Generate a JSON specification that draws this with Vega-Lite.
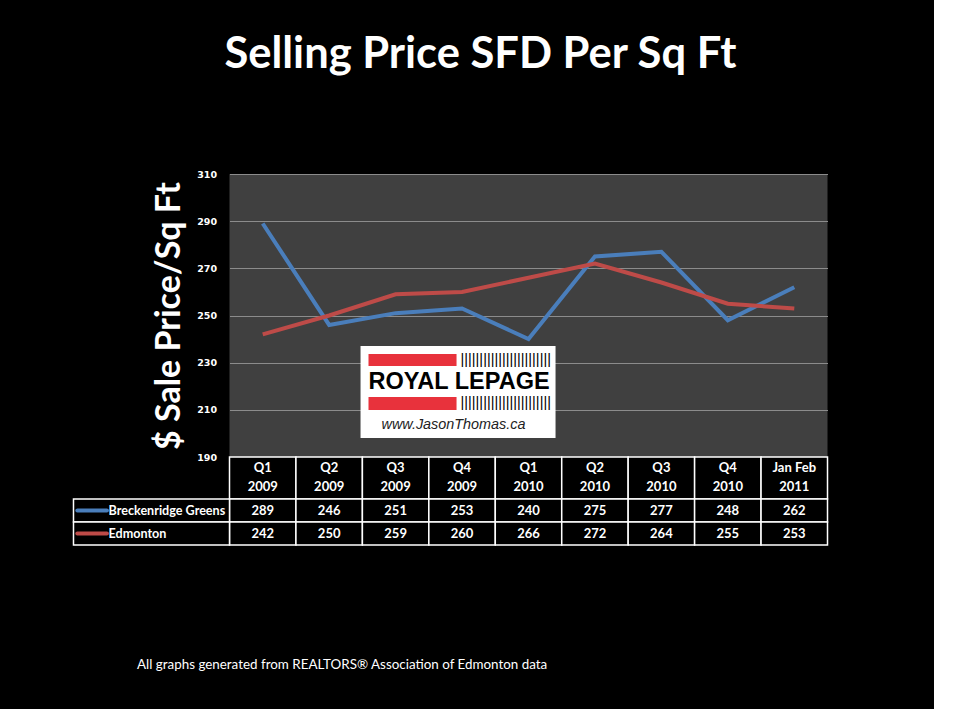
{
  "$schema": "https://vega.github.io/schema/vega-lite/v6.json",
  "background": "black",
  "padding": {"left": 72.5, "top": 32, "right": 105, "bottom": 38},
  "title": {
    "text": "Selling Price SFD Per Sq Ft",
    "color": "white",
    "font": "Lato",
    "fontSize": 43.5,
    "fontWeight": "bold",
    "anchor": "middle",
    "offset": 92,
    "dx": 30
  },
  "datasets": {
    "series": [
      {"period": "Q1 2009", "area": "Breckenridge Greens", "price": 289},
      {"period": "Q2 2009", "area": "Breckenridge Greens", "price": 246},
      {"period": "Q3 2009", "area": "Breckenridge Greens", "price": 251},
      {"period": "Q4 2009", "area": "Breckenridge Greens", "price": 253},
      {"period": "Q1 2010", "area": "Breckenridge Greens", "price": 240},
      {"period": "Q2 2010", "area": "Breckenridge Greens", "price": 275},
      {"period": "Q3 2010", "area": "Breckenridge Greens", "price": 277},
      {"period": "Q4 2010", "area": "Breckenridge Greens", "price": 248},
      {"period": "Jan Feb 2011", "area": "Breckenridge Greens", "price": 262},
      {"period": "Q1 2009", "area": "Edmonton", "price": 242},
      {"period": "Q2 2009", "area": "Edmonton", "price": 250},
      {"period": "Q3 2009", "area": "Edmonton", "price": 259},
      {"period": "Q4 2009", "area": "Edmonton", "price": 260},
      {"period": "Q1 2010", "area": "Edmonton", "price": 266},
      {"period": "Q2 2010", "area": "Edmonton", "price": 272},
      {"period": "Q3 2010", "area": "Edmonton", "price": 264},
      {"period": "Q4 2010", "area": "Edmonton", "price": 255},
      {"period": "Jan Feb 2011", "area": "Edmonton", "price": 253}
    ],
    "periods": [
      {"period": "Q1 2009", "label": "Q1\n2009"},
      {"period": "Q2 2009", "label": "Q2\n2009"},
      {"period": "Q3 2009", "label": "Q3\n2009"},
      {"period": "Q4 2009", "label": "Q4\n2009"},
      {"period": "Q1 2010", "label": "Q1\n2010"},
      {"period": "Q2 2010", "label": "Q2\n2010"},
      {"period": "Q3 2010", "label": "Q3\n2010"},
      {"period": "Q4 2010", "label": "Q4\n2010"},
      {"period": "Jan Feb 2011", "label": "Jan Feb\n2011"}
    ],
    "areas": [
      {"area": "Breckenridge Greens"},
      {"area": "Edmonton"}
    ],
    "logo": [
      {"part": "logo"}
    ]
  },
  "bounds": "flush",
  "spacing": 0,
  "vconcat": [
    {
      "width": 598,
      "height": 283,
      "view": {"fill": "#404040", "stroke": null},
      "layer": [
        {
          "data": {"name": "series"},
          "mark": {"type": "line", "strokeWidth": 4},
          "encoding": {
            "x": {"field": "period", "type": "ordinal", "sort": null, "scale": {"type": "point", "padding": 0.5}, "axis": null},
            "y": {
              "field": "price", "type": "quantitative",
              "scale": {"domain": [190, 310], "nice": false},
              "axis": {
                "values": [190, 210, 230, 250, 270, 290, 310],
                "grid": true, "gridColor": "#8c8c8c", "gridWidth": 1,
                "domain": false, "ticks": false,
                "labelColor": "white", "labelFont": "DejaVu Sans", "labelFontWeight": "bold", "labelFontSize": 9.5,
                "labelPadding": 13,
                "title": "$ Sale  Price/Sq Ft",
                "titleColor": "white", "titleFont": "Lato", "titleFontSize": 34, "titleFontWeight": "bold",
                "titlePadding": 10
              }
            },
            "color": {"field": "area", "type": "nominal", "scale": {"domain": ["Breckenridge Greens", "Edmonton"], "range": ["#4A7EBB", "#BE4B48"]}, "legend": null}
          }
        },
        {
          "data": {"name": "logo"},
          "layer": [
            {
              "mark": {"type": "rect", "fill": "white"},
              "encoding": {
                "x": {"datum": 2.472, "type": "quantitative", "scale": {"domain": [0.5, 9.5], "nice": false, "zero": false}, "axis": null},
                "x2": {"datum": 5.407},
                "y": {"datum": 237.07, "type": "quantitative"},
                "y2": {"datum": 198.06}
              }
            },
            {
              "mark": {"type": "rect", "fill": "#E8323C"},
              "encoding": {
                "x": {"datum": 2.592, "type": "quantitative"},
                "x2": {"datum": 3.917},
                "y": {"datum": 233.67, "type": "quantitative"},
                "y2": {"datum": 228.59}
              }
            },
            {
              "mark": {"type": "rect", "fill": "#E8323C"},
              "encoding": {
                "x": {"datum": 2.592, "type": "quantitative"},
                "x2": {"datum": 3.917},
                "y": {"datum": 215.44, "type": "quantitative"},
                "y2": {"datum": 209.93}
              }
            },
            {
              "mark": {"type": "text", "text": "||||||||||||||||||||||||", "font": "Liberation Sans", "fontSize": 14.5, "color": "black", "align": "left", "baseline": "middle"},
              "encoding": {
                "x": {"datum": 3.977, "type": "quantitative"},
                "y": {"datum": 231.1, "type": "quantitative"}
              }
            },
            {
              "mark": {"type": "text", "text": "||||||||||||||||||||||||", "font": "Liberation Sans", "fontSize": 14.5, "color": "black", "align": "left", "baseline": "middle"},
              "encoding": {
                "x": {"datum": 3.977, "type": "quantitative"},
                "y": {"datum": 212.7, "type": "quantitative"}
              }
            },
            {
              "mark": {"type": "text", "text": "ROYAL LEPAGE", "font": "Liberation Sans", "fontSize": 23.5, "fontWeight": "bold", "color": "black", "align": "left", "baseline": "alphabetic"},
              "encoding": {
                "x": {"datum": 2.592, "type": "quantitative"},
                "y": {"datum": 218.83, "type": "quantitative"}
              }
            },
            {
              "mark": {"type": "text", "text": "www.JasonThomas.ca", "font": "Liberation Sans", "fontSize": 14.4, "fontStyle": "italic", "color": "#222222", "align": "left", "baseline": "alphabetic"},
              "encoding": {
                "x": {"datum": 2.788, "type": "quantitative"},
                "y": {"datum": 201.87, "type": "quantitative"}
              }
            }
          ]
        }
      ],
      "resolve": {"scale": {"x": "independent"}}
    },
    {
      "width": 598,
      "height": 42,
      "view": {"fill": "black", "stroke": null},
      "data": {"name": "periods"},
      "layer": [
        {
          "mark": {"type": "rect", "fill": "black", "stroke": "white", "strokeWidth": 1.5},
          "encoding": {
            "x": {"field": "period", "type": "ordinal", "sort": null, "scale": {"type": "band", "paddingInner": 0, "paddingOuter": 0}, "axis": null}
          }
        },
        {
          "mark": {"type": "text", "color": "white", "font": "Lato", "fontSize": 13, "fontWeight": "bold", "lineBreak": "\n", "lineHeight": 19, "baseline": "middle", "dy": -10},
          "encoding": {
            "x": {"field": "period", "type": "ordinal", "sort": null},
            "text": {"field": "label"}
          }
        }
      ]
    },
    {
      "width": 598,
      "height": 46,
      "view": {"fill": "black", "stroke": null},
      "layer": [
        {
          "data": {"name": "series"},
          "layer": [
            {
              "mark": {"type": "rect", "fill": "black", "stroke": "white", "strokeWidth": 1.5},
              "encoding": {
                "x": {
                  "field": "period", "type": "ordinal", "sort": null,
                  "scale": {"type": "band", "paddingInner": 0, "paddingOuter": 0},
                  "axis": {
                    "labels": false, "ticks": false, "domain": false,
                    "title": "All graphs generated from REALTORS® Association of Edmonton data",
                    "titleColor": "white", "titleFont": "Lato", "titleFontSize": 13.4, "titleFontWeight": "normal",
                    "titleAnchor": "start", "titleAlign": "left", "titleX": -93, "titlePadding": 112
                  }
                },
                "y": {"field": "area", "type": "nominal", "scale": {"domain": ["Breckenridge Greens", "Edmonton"], "paddingInner": 0, "paddingOuter": 0}, "axis": null}
              }
            },
            {
              "mark": {"type": "text", "color": "white", "font": "Lato", "fontSize": 13, "fontWeight": "bold"},
              "encoding": {
                "x": {"field": "period", "type": "ordinal", "sort": null},
                "y": {"field": "area", "type": "nominal"},
                "text": {"field": "price", "type": "quantitative"}
              }
            }
          ]
        },
        {
          "data": {"name": "areas"},
          "layer": [
            {
              "mark": {"type": "rect", "fill": "black", "stroke": "white", "strokeWidth": 1.5},
              "encoding": {
                "x": {"datum": -1.848, "type": "quantitative", "scale": {"domain": [0.5, 9.5], "nice": false, "zero": false}, "axis": null},
                "x2": {"datum": 0.5},
                "y": {"field": "area", "type": "nominal"}
              }
            },
            {
              "mark": {"type": "rule", "strokeWidth": 4, "strokeCap": "round"},
              "encoding": {
                "x": {"datum": -1.79, "type": "quantitative"},
                "x2": {"datum": -1.345},
                "y": {"field": "area", "type": "nominal"},
                "color": {"field": "area", "type": "nominal", "legend": null}
              }
            },
            {
              "mark": {"type": "text", "color": "white", "font": "Lato", "fontSize": 12.6, "fontWeight": "bold", "align": "left"},
              "encoding": {
                "x": {"datum": -1.321, "type": "quantitative"},
                "y": {"field": "area", "type": "nominal"},
                "text": {"field": "area"}
              }
            }
          ]
        }
      ],
      "resolve": {"scale": {"x": "independent"}}
    }
  ],
  "config": {
    "view": {"stroke": null},
    "axis": {"gridColor": "#8c8c8c"}
  }
}
